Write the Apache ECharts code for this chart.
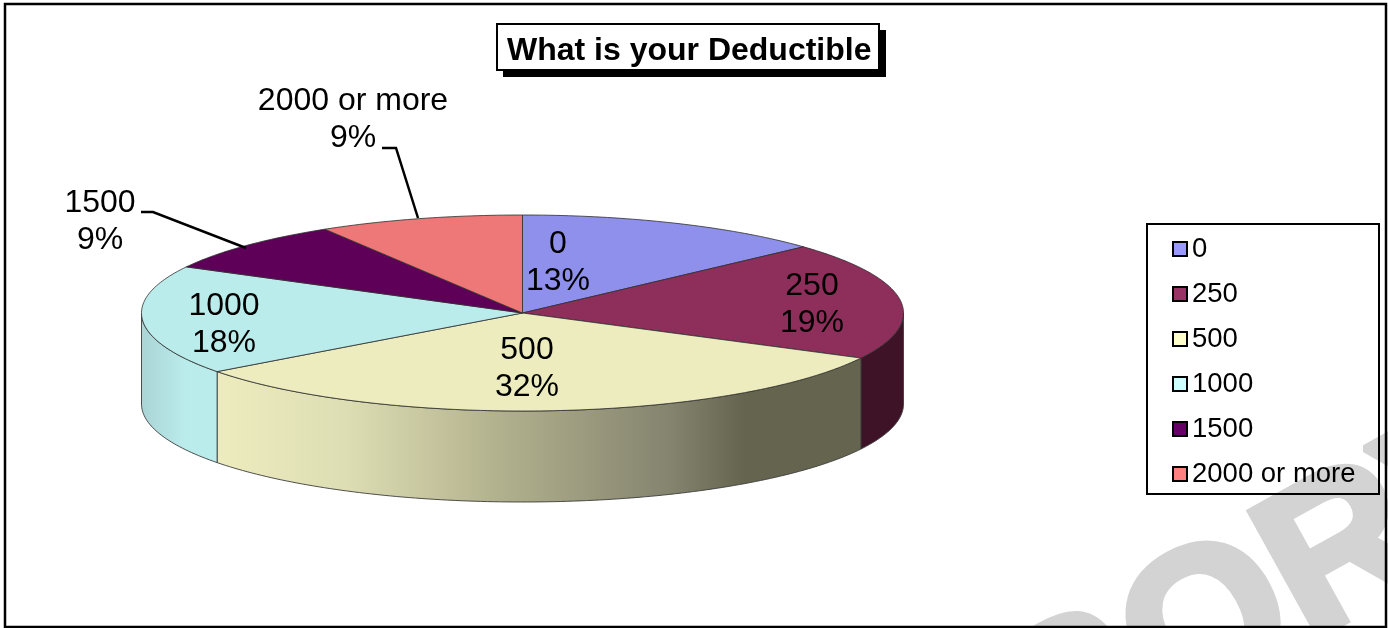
<!DOCTYPE html>
<html><head><meta charset="utf-8">
<style>html,body{margin:0;padding:0;background:#fff}#c{width:1388px;height:628px}</style>
<script src="https://cdn.jsdelivr.net/npm/echarts@6/dist/echarts.min.js"></script>
</head><body><div id="c"></div>
<script>
// data
const categories = ['0', '250', '500', '1000', '1500', '2000 or more'];
const values = [13.2, 19.4, 32.2, 18.0, 8.52, 8.68];
const titleText = 'What is your Deductible';

// styling
const topColors = ['#8F8FEC', '#8D2E5B', '#ECECBE', '#BBECEC', '#5E0058', '#EE7777'];
const legendColors = ['#9999FF', '#993366', '#FFFFCC', '#CCFFFF', '#660066', '#FF8080'];
const FONT = '"Liberation Sans", Arial, sans-serif';

// layout of the tilted pie
const cx = 522.5, cy = 313, rx = 381, ry = 98, depth = 91;
const labelPos = [[558, 263], [812, 304.5], [527, 368.5], [224, 324.5], [100, 221.5], [353, 119.5]];
const leaders = { 4: [[246, 248], [153, 212], [141, 212]], 5: [[418, 218], [396, 148], [382, 148]] };
const wallFill = [
  null,
  '#3E1328',
  { type: 'linear', global: true, x: 216, y: 0, x2: 860, y2: 0, colorStops: [
    { offset: 0, color: '#ECECBE' }, { offset: 0.2, color: '#DEDEB4' }, { offset: 0.45, color: '#B0AF8C' },
    { offset: 0.7, color: '#858570' }, { offset: 0.82, color: '#65654F' }, { offset: 1, color: '#65654F' }] },
  { type: 'linear', global: true, x: 141, y: 0, x2: 217, y2: 0, colorStops: [
    { offset: 0, color: '#AAD4D6' }, { offset: 0.6, color: '#BBECEC' }, { offset: 1, color: '#BBECEC' }] },
  null, null
];

const total = values.reduce((a, b) => a + b, 0);
const bounds = [0];
values.forEach(v => bounds.push(bounds[bounds.length - 1] + v / total * 360));
const pt = (deg, dy) => {
  const t = deg * Math.PI / 180;
  return [cx + rx * Math.sin(t), cy - ry * Math.cos(t) + (dy || 0)];
};
const arc = (a, b, dy) => {
  const n = Math.max(2, Math.ceil(Math.abs(b - a)));
  const out = [];
  for (let i = 0; i <= n; i++) out.push(pt(a + (b - a) * i / n, dy));
  return out;
};

function renderWall(params, api) {
  const i = api.value(0);
  const a = Math.max(bounds[i], 90), b = Math.min(bounds[i + 1], 270);
  if (b <= a) return { type: 'group', children: [] };
  const pts = arc(a, b, 0).concat(arc(b, a, depth));
  return { type: 'polygon', shape: { points: pts },
    style: { fill: wallFill[i] || topColors[i], stroke: '#3c3c3c', lineWidth: 0.9 } };
}
function renderTop(params, api) {
  const i = api.value(0);
  const pts = [[cx, cy]].concat(arc(bounds[i], bounds[i + 1], 0));
  const children = [{ type: 'polygon', shape: { points: pts },
    style: { fill: topColors[i], stroke: '#2e2e2e', lineWidth: 0.8 } }];
  if (leaders[i]) children.push({ type: 'polyline', shape: { points: leaders[i] },
    style: { fill: 'none', stroke: '#000', lineWidth: 2.5 } });
  return { type: 'group', children };
}
function renderLabel(params, api) {
  const i = api.value(0);
  const pct = Math.round(values[i] / total * 100);
  return { type: 'text', style: { x: labelPos[i][0], y: labelPos[i][1],
    text: categories[i] + '\n' + pct + '%', font: '32px ' + FONT, fill: '#000',
    align: 'center', verticalAlign: 'middle', lineHeight: 37 } };
}

const series = [{ type: 'custom', name: 'walls', coordinateSystem: 'none', silent: true, z: 2,
  data: categories.map((c, i) => [i]), renderItem: renderWall }];
categories.forEach((c, i) => series.push({ type: 'custom', name: c, coordinateSystem: 'none', silent: true, z: 3,
  itemStyle: { color: legendColors[i] }, data: [[i]], renderItem: renderTop }));
series.push({ type: 'custom', name: 'labels', coordinateSystem: 'none', silent: true, z: 4,
  data: categories.map((c, i) => [i]), renderItem: renderLabel });

const chart = echarts.init(document.getElementById('c'), null, { renderer: 'canvas' });
chart.setOption({
  animation: false,
  backgroundColor: '#fff',
  title: { text: titleText, left: 507, top: 33, padding: 0, z: 8,
    textStyle: { fontFamily: FONT, fontSize: 32, fontWeight: 'bold', color: '#000', lineHeight: 36 } },
  legend: { orient: 'vertical', left: 1172, top: 235, padding: 0, itemGap: 17, itemWidth: 14, itemHeight: 14,
    icon: 'rect', selectedMode: false,
    textStyle: { fontFamily: FONT, fontSize: 27.5, color: '#000', lineHeight: 26 },
    data: categories.map((c, i) => ({ name: c,
      itemStyle: { color: legendColors[i], borderColor: '#000', borderWidth: 2 } })) },
  graphic: { elements: [
    { type: 'text', x: 1021, y: 736, rotation: 29 * Math.PI / 180, z: -10, silent: true,
      style: { text: 'SORY', font: 'bold 205px ' + FONT, fill: '#D3D3D3', stroke: '#D3D3D3', lineWidth: 8,
        align: 'left', verticalAlign: 'middle' } },
    { type: 'rect', shape: { x: 503, y: 30, width: 383, height: 47 }, z: 5, silent: true,
      style: { fill: '#000' } },
    { type: 'rect', shape: { x: 497, y: 24, width: 382, height: 46 }, z: 6, silent: true,
      style: { fill: '#fff', stroke: '#000', lineWidth: 2 } },
    { type: 'rect', shape: { x: 1147, y: 224, width: 232, height: 270 }, z: 5, silent: true,
      style: { fill: 'none', stroke: '#000', lineWidth: 2 } },
    { type: 'rect', shape: { x: 5, y: 4, width: 1381, height: 623 }, z: 5, silent: true,
      style: { fill: 'none', stroke: '#000', lineWidth: 2.5 } }
  ] },
  series
});
</script></body></html>
